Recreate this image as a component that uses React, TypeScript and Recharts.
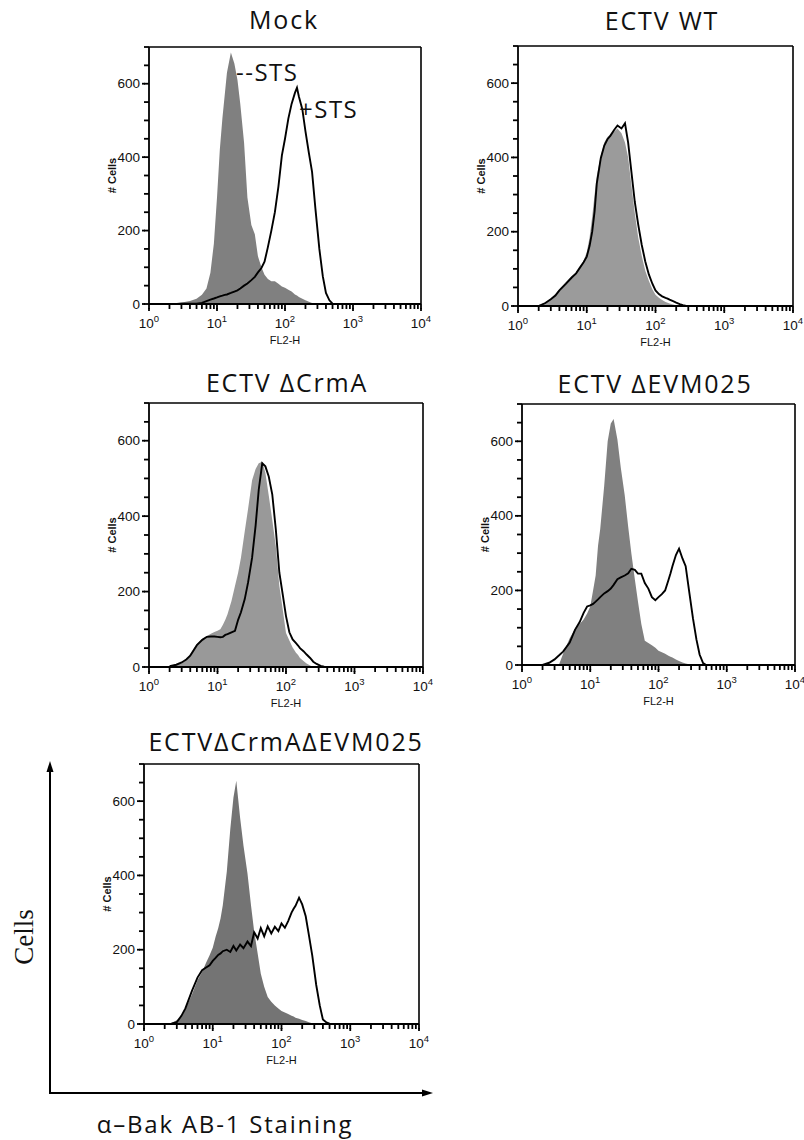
import { Area, ComposedChart, Line, ReferenceLine, XAxis, YAxis } from "recharts";

// FL2-H channels shared by every histogram (log spaced by hand)
const FL2_CHANNELS = [
  2, 2.5, 3, 3.5, 4, 5, 6, 7, 8, 9, 10, 11, 12, 13, 14, 16, 18, 20, 22, 25, 28, 32, 36, 40,
  45, 50, 56, 63, 71, 80, 90, 100, 112, 125, 140, 150, 160, 180, 200, 225, 250, 280, 320,
  360, 400, 450, 500, 560,
];

const X_TICKS = [
  1, 2, 3, 4, 5, 6, 7, 8, 9, 10, 20, 30, 40, 50, 60, 70, 80, 90, 100, 200, 300, 400, 500,
  600, 700, 800, 900, 1000, 2000, 3000, 4000, 5000, 6000, 7000, 8000, 9000, 10000,
];
const Y_TICKS = [0, 50, 100, 150, 200, 250, 300, 350, 400, 450, 500, 550, 600, 650, 700];

// # cells per channel: filled = -STS, outline = +STS
const MOCK_NO_STS = [
  0, 2, 4, 6, 8, 14, 25, 42, 85, 165, 290, 420, 505, 570, 630, 685, 655, 610, 545, 440, 290,
  215, 190, 130, 100, 80, 68, 62, 62, 55, 48, 44, 39, 34, 26, 23, 19, 14, 10, 6, 3, 1, 0, 0,
  0, 0, 0, 0,
];
const MOCK_STS = [
  0, 0, 1, 1, 1, 1, 3, 8, 12, 15, 18, 21, 23, 25, 26, 30, 34, 37, 42, 50, 56, 65, 74, 86, 98,
  115, 155, 200, 250, 320, 405, 450, 505, 545, 575, 589, 565, 530, 470, 410, 360, 260, 150,
  75, 30, 10, 1, 0,
];

const WT_NO_STS = [
  3, 10, 20, 32, 45, 65, 80, 90, 105, 122, 145, 185, 240, 300, 350, 405, 440, 455, 462, 470,
  478, 465, 440, 400, 320, 250, 185, 135, 95, 68, 45, 30, 22, 16, 11, 9, 7, 4, 2, 0, 0, 0, 0,
  0, 0, 0, 0, 0,
];
const WT_STS = [
  0, 8, 18, 28, 42, 60, 76, 88, 104, 118, 133, 162, 200, 255, 330, 398, 432, 449, 458, 474,
  486, 478, 492, 440, 355, 280, 220, 165, 120, 85, 60, 42, 32, 26, 22, 20, 17, 13, 9, 5, 2, 0,
  0, 0, 0, 0, 0, 0,
];

const CRMA_NO_STS = [
  2, 6, 10, 18, 35, 60, 75, 82, 88, 93, 96, 100, 112, 125, 140, 175, 215, 250, 290, 360, 420,
  495, 525, 540, 544, 515, 455, 390, 320, 215, 150, 90, 70, 52, 38, 32, 24, 16, 9, 4, 0, 0,
  0, 0, 0, 0, 0, 0,
];
const CRMA_STS = [
  2, 6, 12, 20, 30, 58, 72, 80, 81, 81, 80, 79, 80, 85, 87, 92, 96, 125, 145, 180, 225, 290,
  375, 470, 540, 532, 505, 458, 365, 250, 190, 135, 92, 73, 63, 57, 50, 42, 33, 24, 14, 8, 3,
  1, 0, 0, 0, 0,
];

const EVM025_NO_STS = [
  0, 0, 0, 2, 30, 72, 98, 110, 122, 138, 157, 200, 240, 320, 365, 480, 600, 648, 660, 605,
  530, 455, 370, 300, 230, 170, 110, 65, 59, 53, 46, 38, 34, 30, 25, 22, 20, 15, 11, 7, 4, 2,
  0, 0, 0, 0, 0, 0,
];
const EVM025_STS = [
  0, 6, 15, 26, 36, 60, 95, 115, 140, 157, 160, 164, 170, 176, 182, 192, 198, 205, 215, 230,
  235, 240, 246, 258, 255, 245, 245, 220, 205, 182, 174, 182, 190, 200, 228, 246, 265, 295,
  312, 285, 265, 200, 125, 68, 28, 5, 0, 0,
];

const DOUBLE_NO_STS = [
  0, 3, 10, 20, 40, 80, 118, 140, 165, 185, 205, 235, 258, 285, 320, 410, 525, 610, 655, 555,
  480, 405, 320, 250, 190, 135, 100, 73, 60, 50, 42, 35, 31, 27, 22, 20, 17, 14, 11, 8, 5, 2,
  0, 0, 0, 0, 0, 0,
];
const DOUBLE_STS = [
  0, 1, 5, 22, 42, 90, 125, 145, 152, 158, 170, 178, 186, 190, 196, 200, 194, 210, 198, 214,
  204, 222, 210, 247, 230, 258, 236, 263, 244, 262, 250, 271, 259, 277, 300, 310, 318, 340,
  322, 290, 240, 185, 105, 50, 12, 4, 1, 0,
];

const TICK_FONT = "'Liberation Sans', Arial, sans-serif";
const TITLE_FONT = "'Open Sans', 'Noto Sans', sans-serif";

const AXIS_W = 50; // room left of the plot for y labels
const AXIS_H = 46; // room under the plot for x labels
const PAD_T = 6;
const PAD_R = 14;
const TICK_LEN = 5;
const TICK_STYLE = { stroke: "#000", strokeWidth: 1.8 };

// labels sit under the built-in tick line; decades get a slightly longer mark
function LogTick({ x, y, payload }: any) {
  const v = Number(payload.value);
  const exp = Math.round(Math.log10(v));
  const major = Math.abs(Math.log10(v) - exp) < 1e-6;
  if (!major) return <g />;
  const px = Number(x);
  const py = Number(y);
  return (
    <g>
      <line x1={px} x2={px} y1={py - 1} y2={py + 2} stroke="#000" strokeWidth={1.8} />
      <text x={px} y={py + 19} textAnchor="middle" fontSize={13.5} fill="#111" fontFamily={TICK_FONT}>
        10
        <tspan dy={-6} fontSize={9.5}>
          {exp}
        </tspan>
      </text>
    </g>
  );
}

function CountTick({ x, y, payload }: any) {
  const v = Number(payload.value);
  if (v % 200 !== 0) return <g />;
  const px = Number(x);
  const py = Number(y);
  return (
    <g>
      <line x1={px + 1} x2={px - 2} y1={py} y2={py} stroke="#000" strokeWidth={1.8} />
      <text x={px - 4} y={py} dy={4.5} textAnchor="end" fontSize={13.5} fill="#111" fontFamily={TICK_FONT}>
        {v}
      </text>
    </g>
  );
}

interface PanelProps {
  title: string;
  titleX: number;
  titleY: number;
  plot: { x: number; y: number; w: number; h: number };
  noSts: number[];
  sts: number[];
  fill: string;
}

function Histogram({ title, titleX, titleY, plot, noSts, sts, fill }: PanelProps) {
  const rows = FL2_CHANNELS.map((ch, i) => ({ ch, noSts: noSts[i], sts: sts[i] }));
  return (
    <>
      <div
        style={{
          position: "absolute",
          left: titleX - 200,
          top: titleY - 17,
          width: 400,
          lineHeight: "34px",
          textAlign: "center",
          fontFamily: TITLE_FONT,
          fontSize: 25,
          letterSpacing: 1.8,
          color: "#111",
          whiteSpace: "nowrap",
        }}
      >
        {title}
      </div>
      <div style={{ position: "absolute", left: plot.x - AXIS_W, top: plot.y - PAD_T }}>
        <ComposedChart
          width={AXIS_W + plot.w + PAD_R}
          height={PAD_T + plot.h + AXIS_H}
          data={rows}
          margin={{ top: PAD_T, right: PAD_R, left: 0, bottom: 0 }}
        >
          <XAxis
            dataKey="ch"
            type="number"
            scale="log"
            domain={[1, 10000]}
            allowDataOverflow
            ticks={X_TICKS}
            interval={0}
            height={AXIS_H}
            tickSize={TICK_LEN}
            tickMargin={0}
            tickLine={TICK_STYLE}
            axisLine={TICK_STYLE}
            tick={(p: any) => <LogTick {...p} />}
            label={({ viewBox }: any) => (
              <text
                x={viewBox.x + viewBox.width / 2}
                y={viewBox.y + 40}
                textAnchor="middle"
                fontSize={11}
                fill="#111"
                fontFamily={TICK_FONT}
              >
                FL2-H
              </text>
            )}
          />
          <YAxis
            type="number"
            domain={[0, 700]}
            allowDataOverflow
            ticks={Y_TICKS}
            interval={0}
            width={AXIS_W}
            tickSize={TICK_LEN}
            tickMargin={0}
            tickLine={TICK_STYLE}
            axisLine={TICK_STYLE}
            tick={(p: any) => <CountTick {...p} />}
            label={({ viewBox }: any) => {
              const cx = viewBox.x + viewBox.width - 37;
              const cy = viewBox.y + viewBox.height / 2;
              return (
                <text
                  x={cx}
                  y={cy}
                  dy={4}
                  transform={`rotate(-90 ${cx} ${cy})`}
                  textAnchor="middle"
                  fontSize={11}
                  fontWeight="bold"
                  fill="#111"
                  fontFamily={TICK_FONT}
                >
                  # Cells
                </text>
              );
            }}
          />
          <Area
            dataKey="noSts"
            type="linear"
            fill={fill}
            fillOpacity={1}
            stroke="none"
            isAnimationActive={false}
          />
          <Line
            dataKey="sts"
            type="linear"
            stroke="#000"
            strokeWidth={1.9}
            dot={false}
            isAnimationActive={false}
          />
          <ReferenceLine y={700} stroke="#000" strokeWidth={1.6} />
          <ReferenceLine x={10000} stroke="#000" strokeWidth={1.6} />
        </ComposedChart>
      </div>
    </>
  );
}

const note = (left: number, top: number, text: string) => (
  <div
    style={{
      position: "absolute",
      left,
      top,
      fontFamily: TITLE_FONT,
      fontSize: 24,
      lineHeight: "30px",
      letterSpacing: 1.5,
      color: "#111",
      whiteSpace: "nowrap",
    }}
  >
    {text}
  </div>
);

export default function App() {
  return (
    <div
      style={{
        position: "absolute",
        left: 0,
        top: 0,
        width: 804,
        height: 1140,
        background: "#fff",
        overflow: "hidden",
      }}
    >
      <Histogram
        title="Mock"
        titleX={284}
        titleY={19}
        plot={{ x: 149, y: 47, w: 272, h: 257 }}
        noSts={MOCK_NO_STS}
        sts={MOCK_STS}
        fill="#808080"
      />
      <Histogram
        title="ECTV WT"
        titleX={662}
        titleY={20}
        plot={{ x: 518, y: 46, w: 275, h: 260 }}
        noSts={WT_NO_STS}
        sts={WT_STS}
        fill="#9b9b9b"
      />
      <Histogram
        title="ECTV ΔCrmA"
        titleX={287}
        titleY={382}
        plot={{ x: 149, y: 403, w: 274, h: 264 }}
        noSts={CRMA_NO_STS}
        sts={CRMA_STS}
        fill="#999999"
      />
      <Histogram
        title="ECTV ΔEVM025"
        titleX={655}
        titleY={383}
        plot={{ x: 522, y: 404, w: 273, h: 261 }}
        noSts={EVM025_NO_STS}
        sts={EVM025_STS}
        fill="#808080"
      />
      <Histogram
        title="ECTVΔCrmAΔEVM025"
        titleX={286}
        titleY={741}
        plot={{ x: 144, y: 764, w: 275, h: 260 }}
        noSts={DOUBLE_NO_STS}
        sts={DOUBLE_STS}
        fill="#747474"
      />

      {note(236, 57, "--STS")}
      {note(299, 94, "+STS")}

      {/* overall axes for the last panel */}
      <svg width={804} height={1140} style={{ position: "absolute", left: 0, top: 0, pointerEvents: "none" }}>
        <line x1={50} y1={1093} x2={50} y2={770} stroke="#000" strokeWidth={2} />
        <polygon points="50,761 46.5,772 53.5,772" fill="#000" />
        <line x1={49} y1={1093} x2={424} y2={1093} stroke="#000" strokeWidth={2} />
        <polygon points="433,1093 422,1089.5 422,1096.5" fill="#000" />
        <text
          x={24}
          y={937}
          transform="rotate(-90 24 937)"
          textAnchor="middle"
          dominantBaseline="central"
          fontSize={27}
          fontFamily="'Liberation Serif', 'Times New Roman', serif"
          fill="#111"
        >
          Cells
        </text>
        <text
          x={225}
          y={1123}
          textAnchor="middle"
          dominantBaseline="central"
          fontSize={24}
          letterSpacing={1.8}
          fontFamily={TITLE_FONT}
          fill="#111"
        >
          α–Bak AB-1 Staining
        </text>
      </svg>
    </div>
  );
}
